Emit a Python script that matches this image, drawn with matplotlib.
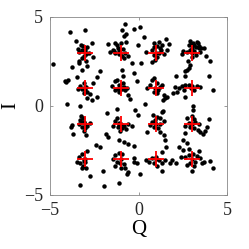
import numpy as np
import matplotlib
matplotlib.use("Agg")
import matplotlib.pyplot as plt

# ideal 16-QAM levels
levels = [-3, -1, 1, 3]

# received symbols (Q, I), grouped by row
row_top = [
    (-3.26, 3.45), (-3.15, 3.36), (-3.0, 3.17), (-2.89, 3.3), (-3.21, 3.13), (-3.34, 3.02),
    (-3.11, 2.83), (-3.21, 2.68), (-3.38, 2.51), (-2.96, 2.51), (-2.81, 2.98), (-2.55, 2.74),
    (-3.34, 2.42), (-2.92, 2.23), (-3.17, 2.04), (-3.05, 3.05), (-2.95, 2.9), (-3.4, 3.2),
    (-3.87, 4.17), (-3.04, 4.25), (-3.53, 3.64), (-2.64, 3.55), (-3.77, 2.17), (-3.49, 1.62),
    (-3.96, 1.47), (-4.11, 1.32), (-2.17, 1.94), (-2.36, 1.6), (-4.85, 2.38),
    (-1.7, 3.49), (-1.32, 3.55), (-1.0, 3.55), (-0.7, 3.58), (-1.6, 3.02), (-1.42, 3.17),
    (-1.32, 2.98), (-1.19, 3.25), (-1.08, 3.06), (-0.89, 3.19), (-0.75, 2.98), (-1.13, 2.89),
    (-0.94, 2.83), (-0.81, 2.7), (-0.62, 2.83), (-1.23, 3.4), (-1.4, 3.1), (-1.05, 3.0),
    (-0.74, 4.62), (0.09, 4.43), (-0.28, 4.3), (-0.94, 4.26), (0.32, 3.89), (-0.7, 4.02),
    (-0.81, 3.92), (-0.04, 3.45), (-0.38, 2.42), (0.15, 2.42), (-0.94, 2.04),
    (0.43, 3.02), (0.75, 3.15), (0.85, 3.3), (1.04, 3.38), (1.19, 3.25), (1.26, 3.15),
    (0.89, 2.87), (1.04, 2.77), (1.13, 2.96), (0.94, 2.58), (0.75, 2.49), (1.42, 2.92),
    (1.6, 3.15), (0.85, 3.55), (1.13, 3.58), (1.32, 3.45), (1.57, 3.74), (1.72, 3.49), (1.0, 3.0),
    (2.83, 3.4), (2.96, 3.49), (3.11, 3.45), (3.26, 3.32), (3.4, 3.23), (3.04, 3.23),
    (2.9, 3.13), (2.75, 3.02), (2.53, 3.06), (2.47, 2.92), (3.04, 2.77), (3.23, 2.87),
    (3.47, 3.02), (3.7, 3.23), (3.79, 2.83), (4.06, 2.51), (2.77, 2.51), (2.92, 2.32),
    (2.85, 2.13), (2.74, 2.04), (2.64, 1.94), (2.92, 3.64), (3.08, 3.55), (3.3, 3.58),
    (3.36, 3.51), (3.4, 3.36), (3.5, 3.26), (3.0, 3.0), (3.15, 3.1),
]

row_upper = [
    (-3.3, 1.13), (-3.11, 1.28), (-3.02, 0.91), (-2.89, 0.81), (-2.77, 0.68), (-2.89, 0.43),
    (-2.64, 0.34), (-2.32, 0.53), (-3.21, 0.98), (-3.4, 0.94), (-2.96, 1.06), (-3.1, 0.75),
    (-3.05, 1.05), (-4.13, 1.42), (-4.06, 0.09), (-3.3, 0.0), (-2.6, 1.3),
    (-1.51, 1.13), (-1.32, 1.38), (-1.23, 1.47), (-1.13, 1.19), (-1.04, 1.1), (-0.94, 0.94),
    (-0.85, 1.06), (-0.75, 0.91), (-0.66, 1.0), (-0.89, 1.28), (-1.08, 0.81), (-1.32, 0.91),
    (-0.9, 1.7), (-1.0, 1.0), (-1.15, 0.95), (-0.28, 1.85), (-0.09, 1.38), (-0.6, 0.6),
    (0.47, 1.0), (0.66, 1.19), (0.75, 1.47), (0.89, 1.57), (1.04, 1.28), (1.19, 1.06),
    (0.89, 0.81), (1.04, 0.72), (1.45, 0.62), (1.51, 0.43), (1.38, 0.34), (1.6, 0.53),
    (1.3, 1.2), (0.95, 1.0), (1.1, 0.9),
    (1.94, 0.72), (2.17, 0.81), (2.08, 1.06), (2.26, 1.0), (2.45, 1.13), (2.55, 0.91),
    (2.64, 1.19), (2.83, 1.19), (3.02, 1.1), (3.11, 0.91), (3.3, 1.13), (3.49, 1.06),
    (2.64, 0.53), (3.08, 0.0), (2.13, 1.7), (2.64, 1.7), (3.96, 1.66), (4.2, 0.87),
    (3.08, -0.2), (2.95, 1.0),
]

row_gap = [
    (-1.79, -0.42), (-1.23, -0.17), (-0.19, -0.23), (-0.04, -0.51), (0.34, 0.09),
    (1.38, -0.28), (-0.5, 0.4),
]

row_lower = [
    (-3.26, -0.57), (-3.15, -0.7), (-3.3, -0.79), (-3.08, -0.89), (-3.34, -1.02), (-3.21, -1.17),
    (-3.02, -1.26), (-2.89, -1.13), (-3.11, -1.4), (-3.77, -1.08), (-3.83, -1.17), (-3.72, -1.55),
    (-2.96, -1.62), (-2.77, -0.98), (-3.0, -1.0), (-3.2, -0.9),
    (-1.23, -0.7), (-1.32, -0.83), (-1.13, -0.94), (-1.42, -1.13), (-1.19, -1.17), (-0.94, -1.26),
    (-0.85, -1.13), (-0.7, -1.32), (-1.04, -1.4), (-0.57, -1.0), (-0.38, -1.15), (-1.0, -1.0),
    (-1.1, -1.05), (-1.83, -1.55), (-1.7, -1.77), (-2.17, -2.3), (-1.13, -1.92), (-0.81, -2.02),
    (-0.57, -2.11), (-0.28, -2.25), (0.47, -1.45), (-2.4, -2.2),
    (0.81, -0.51), (1.04, -0.6), (1.19, -0.7), (0.94, -0.79), (0.75, -0.89), (0.62, -1.08),
    (0.89, -1.21), (1.08, -1.26), (1.23, -1.02), (1.32, -0.32), (1.42, -0.83), (1.19, -1.45),
    (1.42, -1.64), (1.51, -1.92), (1.53, -2.3), (1.0, -1.0), (0.9, -0.95),
    (2.75, -0.68), (3.04, -0.57), (3.11, -0.75), (3.19, -0.89), (2.83, -0.98), (2.64, -1.13),
    (2.92, -1.21), (3.15, -1.26), (3.38, -1.36), (3.47, -1.45), (3.66, -1.55), (3.75, -1.4),
    (3.85, -1.17), (4.0, -0.75), (3.4, -1.0), (3.0, -1.0), (2.51, -1.92), (2.75, -2.1), (2.6, -1.5),
]

row_bottom = [
    (-2.89, -2.53), (-3.21, -2.68), (-3.34, -2.87), (-3.11, -2.96), (-3.02, -3.13), (-3.3, -3.23),
    (-3.15, -3.38), (-2.96, -3.51), (-3.21, -3.51), (-3.45, -3.13), (-3.0, -3.0), (-3.1, -3.1),
    (-2.74, -3.96), (-3.3, -4.43), (-2.02, -3.66), (-1.98, -4.47), (-1.13, -4.34),
    (-1.13, -2.64), (-1.32, -2.77), (-0.94, -2.7), (-1.42, -3.0), (-1.23, -3.13), (-1.04, -3.23),
    (-0.81, -3.26), (-1.32, -3.4), (-1.0, -3.51), (-0.75, -3.51), (-0.66, -3.81), (-0.57, -3.72),
    (-0.28, -3.13), (-0.09, -3.23), (-1.0, -3.0), (0.06, -3.85), (-0.28, -2.9),
    (0.43, -3.04), (0.57, -3.13), (0.75, -2.94), (1.0, -2.87), (1.13, -3.04), (1.32, -3.23),
    (0.89, -3.23), (1.04, -3.36), (1.34, -3.66), (1.51, -3.02), (1.75, -3.23), (1.89, -3.04),
    (1.0, -3.0), (1.3, -2.6), (2.26, -2.32),
    (2.64, -2.87), (2.83, -2.77), (3.08, -2.7), (3.3, -2.81), (3.45, -2.94), (3.19, -3.13),
    (2.92, -3.23), (2.75, -3.32), (3.11, -3.38), (3.02, -3.66), (3.59, -3.23), (3.72, -3.13),
    (4.06, -3.08), (4.2, -3.51), (3.4, -2.55), (2.38, -2.87), (2.09, -3.23), (2.5, -2.5),
    (2.83, -2.4), (3.0, -3.0),
]

rx = np.array([p[0] for p in row_top + row_upper + row_gap + row_lower + row_bottom])
ry = np.array([p[1] for p in row_top + row_upper + row_gap + row_lower + row_bottom])

ideal_q, ideal_i = np.meshgrid(levels, levels)

plt.rcParams['font.family'] = ['Liberation Serif', 'DejaVu Serif']

fig = plt.figure(figsize=(2.49, 2.49), dpi=100)
ax = fig.add_axes([0.201, 0.217, 0.711, 0.715])

ax.plot(rx, ry, 'o', color='black', markersize=3.2, markeredgewidth=0)
ax.plot(ideal_q.ravel(), ideal_i.ravel(), '+', color='red', markersize=11, markeredgewidth=1.3)

ax.set_xlim(-5, 5)
ax.set_ylim(-5, 5)
ax.set_xticks([-5, 0, 5])
ax.set_yticks([-5, 0, 5])
ax.tick_params(direction='in', length=2.5, width=0.6, labelsize=13, pad=5,
               top=True, right=True, colors='#262626', color='#888888')
for s in ax.spines.values():
    s.set_color('#888888')
    s.set_linewidth(0.6)

ax.set_xlabel('Q', fontsize=15, labelpad=1)
ax.set_ylabel('I', fontsize=15, labelpad=3)

fig.savefig('out.png', dpi=100)
